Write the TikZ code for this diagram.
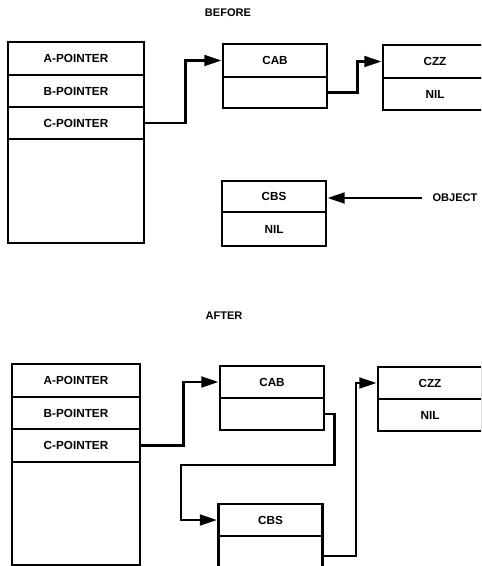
\documentclass[tikz,border=0pt]{standalone}
\usepackage{fontspec}
\setmainfont{Liberation Sans}
\usetikzlibrary{arrows.meta}
\tikzset{
  field/.style={draw, line width=2.1pt, rectangle, inner sep=0pt, anchor=center,
    font=\fontsize{8.8}{10}\selectfont\bfseries},
  wide/.style={field, minimum width=102pt},
  awide/.style={field, minimum width=96pt},
  cell/.style={field, minimum width=78pt},
  lbl/.style={font=\fontsize{8.3}{10}\selectfont\bfseries, inner sep=1pt},
  link/.style={line width=2.1pt, -{Triangle[length=13pt,width=8pt]}},
}
\begin{document}
\begin{tikzpicture}[x=0.75pt,y=-0.75pt]
\useasboundingbox (0,0) rectangle (481,566);
\clip (0,0) rectangle (481,566);
% ---------------- BEFORE ----------------
\node[lbl] (before) at (228,13) {BEFORE};
\node[wide, minimum height=24.75pt] (bA) at (76,58.5) {A-POINTER};
\node[wide, minimum height=24pt] (bB) at (76,91) {B-POINTER};
\node[wide, minimum height=24pt] (bC) at (76,123) {C-POINTER};
\node[wide, minimum height=78pt] (bE) at (76,191) {};
\node[cell, minimum height=24.75pt] (bCAB) at (275,60.5) {CAB};
\node[cell, minimum height=23.25pt] (bCABn) at (275,92.5) {};
\node[cell, minimum height=24.75pt] (bCZZ) at (435,61.5) {CZZ};
\node[cell, minimum height=24pt] (bCZZn) at (435,94) {NIL};
\node[cell, minimum height=23.25pt] (bCBS) at (274,196.5) {CBS};
\node[cell, minimum height=25.5pt] (bCBSn) at (274,229) {NIL};
\node[lbl, anchor=west] (obj) at (431,198) {OBJECT};
\draw[link] (bC.east) -- ++(40,0) |- (bCAB.west);
\draw[link] (bCABn.east) -- ++(29,0) |- (bCZZ.west);
\path (obj.west) ++(-9,0) coordinate (objs);
\draw[link] (objs) -- (objs -| bCBS.east);
% ---------------- AFTER ----------------
\node[lbl] (after) at (224,316) {AFTER};
\node[awide, minimum height=24.75pt] (aA) at (76,380.5) {A-POINTER};
\node[awide, minimum height=24pt] (aB) at (76,413) {B-POINTER};
\node[awide, minimum height=24.75pt] (aC) at (76,445.5) {C-POINTER};
\node[awide, minimum height=77.25pt] (aE) at (76,513.5) {};
\node[cell, minimum height=24pt] (aCAB) at (272,382) {CAB};
\node[cell, minimum height=24pt] (aCABn) at (272,414) {};
\node[cell, minimum height=24pt] (aCZZ) at (430,383) {CZZ};
\node[cell, minimum height=24pt] (aCZZn) at (430,415) {NIL};
\node[cell, minimum height=24pt] (aCBS) at (270.5,520) {CBS};
\node[cell, minimum height=30pt] (aCBSn) at (270.5,556) {};
\coordinate (turn) at (181,465);
\draw[link] (aC.east) -- ++(42,0) |- (aCAB.west);
\draw[link] (aCABn.east) -- ++(9,0) |- (turn) |- (aCBS.west);
\draw[link] (aCBSn.east) -- ++(32,0) |- (aCZZ.west);
\end{tikzpicture}
\end{document}
